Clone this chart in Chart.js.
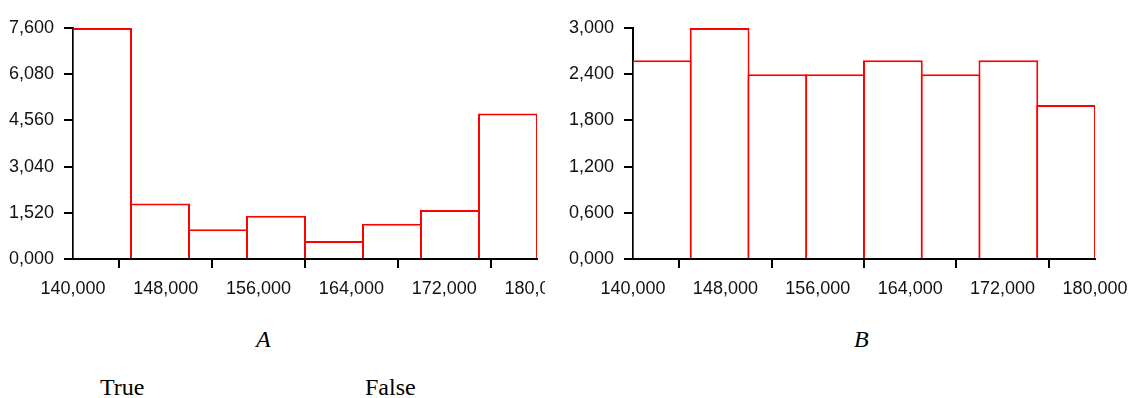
<!DOCTYPE html>
<html>
<head>
<meta charset="utf-8">
<script src="https://cdn.jsdelivr.net/npm/chart.js@4/dist/chart.umd.min.js"></script>
<style>
  html, body { margin: 0; padding: 0; background: #fff; }
  body { width: 1130px; height: 398px; position: relative; overflow: hidden; }
  .box { position: absolute; top: 0; height: 300px; }
  #boxA { left: 0; width: 545px; }
  #boxB { left: 560px; width: 570px; }
  .lbl { position: absolute; font-family: "Liberation Serif", "Times New Roman", serif; font-size: 24px; line-height: 28px; color: #000; }
  .it { font-style: italic; }
</style>
</head>
<body>
<div class="box" id="boxA"><canvas id="chartA"></canvas></div>
<div class="box" id="boxB"><canvas id="chartB"></canvas></div>
<div class="lbl it" style="left:256px; top:325px;">A</div>
<div class="lbl it" style="left:854px; top:325px;">B</div>
<div class="lbl" style="left:100px; top:373px;">True</div>
<div class="lbl" style="left:365px; top:373px;">False</div>
<script>
// bin centres (bins are 5,000 wide, from 140,000 to 180,000)
const binCentres = [142500, 147500, 152500, 157500, 162500, 167500, 172500, 177500];
const countsA = [7600, 1830, 980, 1420, 590, 1160, 1610, 4790];
const countsB = [2580, 3000, 2400, 2400, 2580, 2400, 2580, 2000];

const xMin = 140000, xMax = 180000, xStep = 8000;
const yMaxA = 7600, yStepA = 1520;
const yMaxB = 3000, yStepB = 600;

const tickFont = { family: "'Liberation Sans', Arial, sans-serif", size: 18 };

// 7600 -> "7,600", 140000 -> "140,000"
function fmt(v) {
  return (v / 1000).toFixed(3).replace('.', ',');
}

function makeChart(id, counts, yMax, yStep, padRight) {
  const ctx = document.getElementById(id).getContext('2d');
  return new Chart(ctx, {
    type: 'bar',
    data: {
      datasets: [{
        data: binCentres.map((c, i) => ({ x: c, y: counts[i] })),
        backgroundColor: '#ffffff',
        borderColor: '#ff0000',
        borderWidth: { top: 2, left: 2, right: 2, bottom: 0 },
        borderSkipped: false,
        // a touch over 1 so neighbouring bars share one 2px edge
        barPercentage: 1.035,
        categoryPercentage: 1
      }]
    },
    options: {
      responsive: true,
      maintainAspectRatio: false,
      animation: false,
      layout: { padding: { top: 28, right: padRight, left: 0, bottom: 0 } },
      plugins: { legend: { display: false }, tooltip: { enabled: false } },
      scales: {
        x: {
          type: 'linear',
          min: xMin, max: xMax, offset: false,
          grid: { drawOnChartArea: false, drawTicks: true, tickLength: 9, color: '#000', lineWidth: 2 },
          border: { display: true, color: '#000', width: 2 },
          ticks: { stepSize: xStep, color: '#111', font: tickFont, padding: 10, maxRotation: 0, autoSkip: false,
                   callback: v => fmt(v) },
          afterFit: s => { s.height = 41; s.paddingLeft = 0; s.paddingRight = 0; }
        },
        y: {
          min: 0, max: yMax,
          grid: { drawOnChartArea: false, drawTicks: true, tickLength: 9, color: '#000', lineWidth: 2 },
          border: { display: true, color: '#000', width: 2 },
          ticks: { stepSize: yStep, color: '#111', font: tickFont, padding: 10,
                   callback: v => fmt(v) },
          afterFit: s => { s.width = 73; s.paddingTop = 0; s.paddingBottom = 0; }
        }
      }
    }
  });
}

makeChart('chartA', countsA, yMaxA, yStepA, 8);
makeChart('chartB', countsB, yMaxB, yStepB, 35);
</script>
</body>
</html>
